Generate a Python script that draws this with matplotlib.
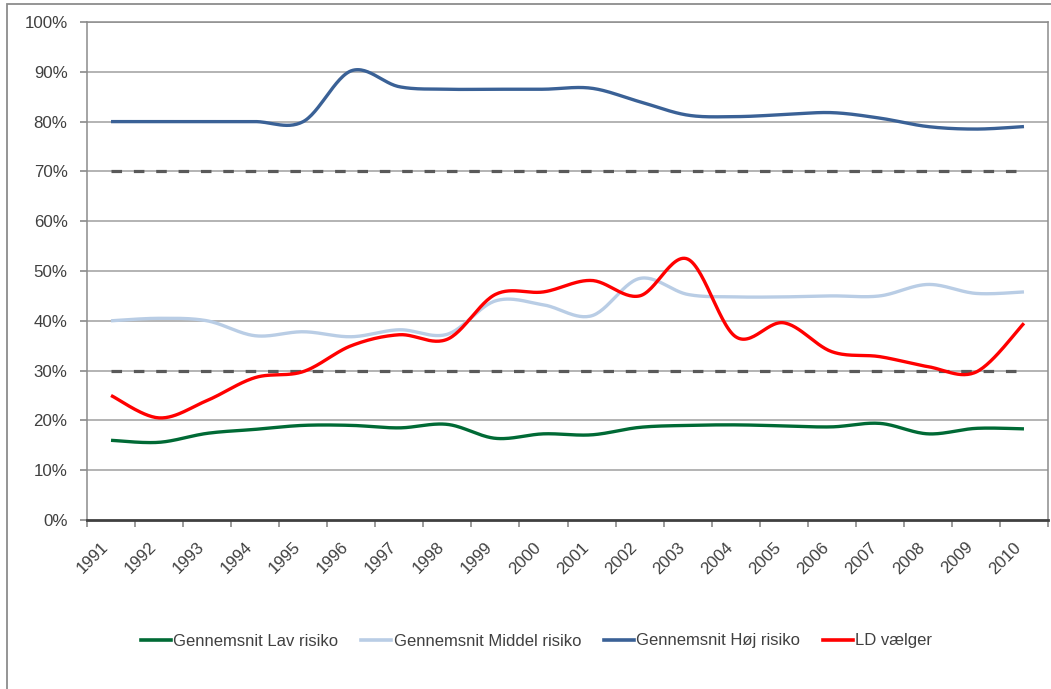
import numpy as np
import matplotlib
matplotlib.use("Agg")
import matplotlib.pyplot as plt
from matplotlib.lines import Line2D
from matplotlib.patches import Rectangle

years = [str(y) for y in range(1991, 2011)]
lav = [16.0, 15.6, 17.4, 18.2, 19.0, 19.0, 18.5, 19.2, 16.4, 17.3, 17.1, 18.6, 19.0, 19.1, 18.9, 18.7, 19.4, 17.3, 18.4, 18.3]
middel = [40.0, 40.5, 40.0, 37.0, 37.8, 36.8, 38.2, 37.3, 44.0, 43.2, 41.0, 48.5, 45.3, 44.8, 44.8, 45.0, 45.0, 47.3, 45.5, 45.8]
hoj = [80.0, 80.0, 80.0, 80.0, 80.0, 90.2, 87.0, 86.5, 86.5, 86.5, 86.7, 84.0, 81.3, 81.0, 81.4, 81.8, 80.7, 79.0, 78.5, 79.0]
ld = [25.0, 20.5, 24.0, 28.6, 29.8, 35.0, 37.2, 36.3, 45.3, 45.8, 48.1, 45.0, 52.4, 36.8, 39.6, 33.8, 32.8, 30.8, 29.7, 39.5]
threshold_high = 70
threshold_low = 30

series = [
    ("Gennemsnit Lav risiko", lav, "#006A35"),
    ("Gennemsnit Middel risiko", middel, "#B9CDE5"),
    ("Gennemsnit Høj risiko", hoj, "#3A6196"),
    ("LD vælger", ld, "#FF0000"),
]

def smooth(xs, ys, n=30):
    xs = np.asarray(xs, float); ys = np.asarray(ys, float)
    P = np.column_stack([xs, ys])
    out = [P[0]]
    m = len(P)
    for i in range(m - 1):
        p0 = P[i - 1] if i > 0 else P[i]
        p1 = P[i]; p2 = P[i + 1]
        p3 = P[i + 2] if i + 2 < m else P[i + 1]
        c1 = p1 + (p2 - p0) / 6.0
        c2 = p2 - (p3 - p1) / 6.0
        t = np.linspace(0, 1, n)[1:, None]
        seg = ((1 - t) ** 3) * p1 + 3 * ((1 - t) ** 2) * t * c1 + 3 * (1 - t) * t ** 2 * c2 + t ** 3 * p2
        out.extend(seg)
    out = np.array(out)
    return out[:, 0], out[:, 1]

plt.rcParams['font.family'] = ['Liberation Sans', 'DejaVu Sans']
W, H = 1051, 689
fig = plt.figure(figsize=(W / 100, H / 100), dpi=100)
ax = fig.add_axes([87 / W, 1 - 520 / H, (1048 - 87) / W, (520 - 22) / H])

x = np.arange(len(years))
ax.set_xlim(-0.5, len(years) - 0.5)
ax.set_ylim(0, 100)

grid_c = "#9f9f9f"
for v in range(10, 101, 10):
    ax.axhline(v, color=grid_c, lw=1.1, zorder=1)

# threshold dashed lines
for thr in (threshold_high, threshold_low):
    ax.plot([x[0], x[-1]], [thr, thr], color="#595959", lw=2.3,
            linestyle=(0, (3.3, 3.7)), dash_capstyle="butt", zorder=2)

handles = []
for name, vals, col in series:
    sx, sy = smooth(x, vals)
    ln, = ax.plot(sx, sy, color=col, lw=2.4, solid_capstyle="butt", zorder=3)
    handles.append(Line2D([], [], color=col, lw=2.6, label=name))

ax.set_yticks(range(0, 101, 10))
ax.set_yticklabels([f"{v}%" for v in range(0, 101, 10)])
ax.set_xticks(x)
ax.set_xticklabels(years, rotation=45, ha="right", va="top", rotation_mode="default")
ax.set_xticks(np.arange(-0.5, len(years), 1.0), minor=True)

ax.tick_params(axis="x", which="major", length=0, pad=14, labelsize=12.2, colors="#404040")
ax.tick_params(axis="x", which="minor", length=5, width=1.1, color="#808080", direction="out")
ax.tick_params(axis="y", which="major", length=5, width=1.1, color="#808080", pad=9, labelsize=12.2, labelcolor="#404040")

for s in ("left", "right", "top"):
    ax.spines[s].set_color("#8c8c8c")
    ax.spines[s].set_linewidth(1.1)
ax.spines["bottom"].set_color("#404040")
ax.spines["bottom"].set_linewidth(2.0)
ax.spines["bottom"].set_zorder(4)

leg = fig.legend(handles=handles, loc="center", bbox_to_anchor=(536.5 / W, 1 - 641 / H),
                 ncol=4, frameon=False, fontsize=12, handlelength=1.8, handletextpad=0.15,
                 columnspacing=1.35, labelcolor="#404040")

fig.patches.append(Rectangle((7 / W, -0.05), 1.2, (1 - 4 / H) + 0.05, transform=fig.transFigure,
                             fill=False, edgecolor="#8c8c8c", lw=1.3))

fig.savefig("out.png", dpi=100)
